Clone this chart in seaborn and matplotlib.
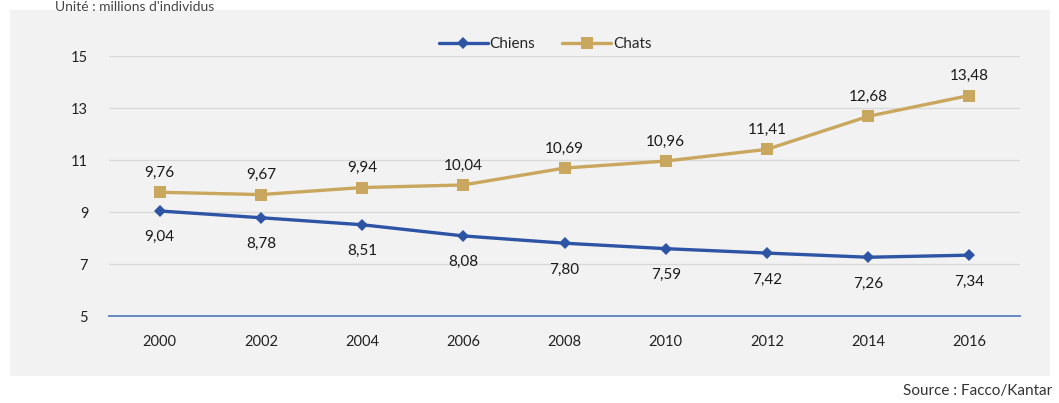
import matplotlib
matplotlib.use("Agg")
import matplotlib.pyplot as plt
import seaborn as sns
import pandas as pd
from matplotlib.patches import Rectangle

years = ["2000", "2002", "2004", "2006", "2008", "2010", "2012", "2014", "2016"]
chiens = [9.04, 8.78, 8.51, 8.08, 7.80, 7.59, 7.42, 7.26, 7.34]
chats = [9.76, 9.67, 9.94, 10.04, 10.69, 10.96, 11.41, 12.68, 13.48]
y_ticks = [5, 7, 9, 11, 13, 15]

sns.set_theme(style="white")
plt.rcParams['font.family'] = ['Lato', 'DejaVu Sans']

BG = "#f2f2f2"
C_DOG = "#2e55a5"
C_CAT = "#c9a75e"

fig = plt.figure(figsize=(10.59, 4.03), dpi=100)
fig.patch.set_facecolor("white")
fig.patches.append(Rectangle((10/1059, 1-376/403), 1040/1059, 366/403,
                             transform=fig.transFigure, facecolor=BG,
                             edgecolor="none", zorder=-5))
ax = fig.add_axes([109/1059, 1-316/403, 911/1059, 260/403])
ax.set_zorder(2)
ax.set_facecolor(BG)

df = pd.DataFrame({
    "Année": years * 2,
    "Valeur": chiens + chats,
    "Série": ["Chiens"] * len(years) + ["Chats"] * len(years),
})
sns.lineplot(data=df, x="Année", y="Valeur", hue="Série", style="Série",
             palette={"Chiens": C_DOG, "Chats": C_CAT},
             markers={"Chiens": "D", "Chats": "s"},
             dashes=False, linewidth=2.4,
             markersize=8, markeredgewidth=0, ax=ax, zorder=3)
for line in ax.lines:
    if line.get_marker() == "D":
        line.set_markersize(6.5)

for i, (d, c) in enumerate(zip(chiens, chats)):
    ax.annotate(f"{d:.2f}".replace(".", ","), (i, d), xytext=(0, -19),
                textcoords="offset points", ha="center", va="center",
                fontsize=11, color="#1a1a1a")
    ax.annotate(f"{c:.2f}".replace(".", ","), (i, c), xytext=(0, 14),
                textcoords="offset points", ha="center", va="center",
                fontsize=11, color="#1a1a1a")

ax.set_xlim(-0.5, len(years) - 0.5)
ax.set_ylim(5, 15)
ax.set_yticks(y_ticks)
ax.grid(axis="y", color="#d9d9d9", linewidth=1)
ax.set_axisbelow(True)
for s in ["top", "right", "left"]:
    ax.spines[s].set_visible(False)
ax.spines["bottom"].set_color("#5b80c0")
ax.spines["bottom"].set_linewidth(1.3)
ax.tick_params(axis="both", length=0, labelsize=10.5, colors="#222222")
ax.tick_params(axis="x", pad=14)
ax.tick_params(axis="y", pad=15)
ax.set_xlabel("")
ax.set_ylabel("")

handles, labels = ax.get_legend_handles_labels()
ax.legend(handles, labels, loc="center", bbox_to_anchor=(545/1059, 1-44/403),
          bbox_transform=fig.transFigure, ncol=2, frameon=False,
          fontsize=11, handlelength=3.2, handletextpad=0.1, columnspacing=1.8)

fig.text(55/1059, 1-1/403, "Unité : millions d'individus", ha="left", va="top",
         fontsize=10, color="#444444")
fig.text(1052/1059, 1-391/403, "Source : Facco/Kantar", ha="right", va="center",
         fontsize=11, color="#333333")

fig.savefig("out.png", dpi=100, facecolor="white")
